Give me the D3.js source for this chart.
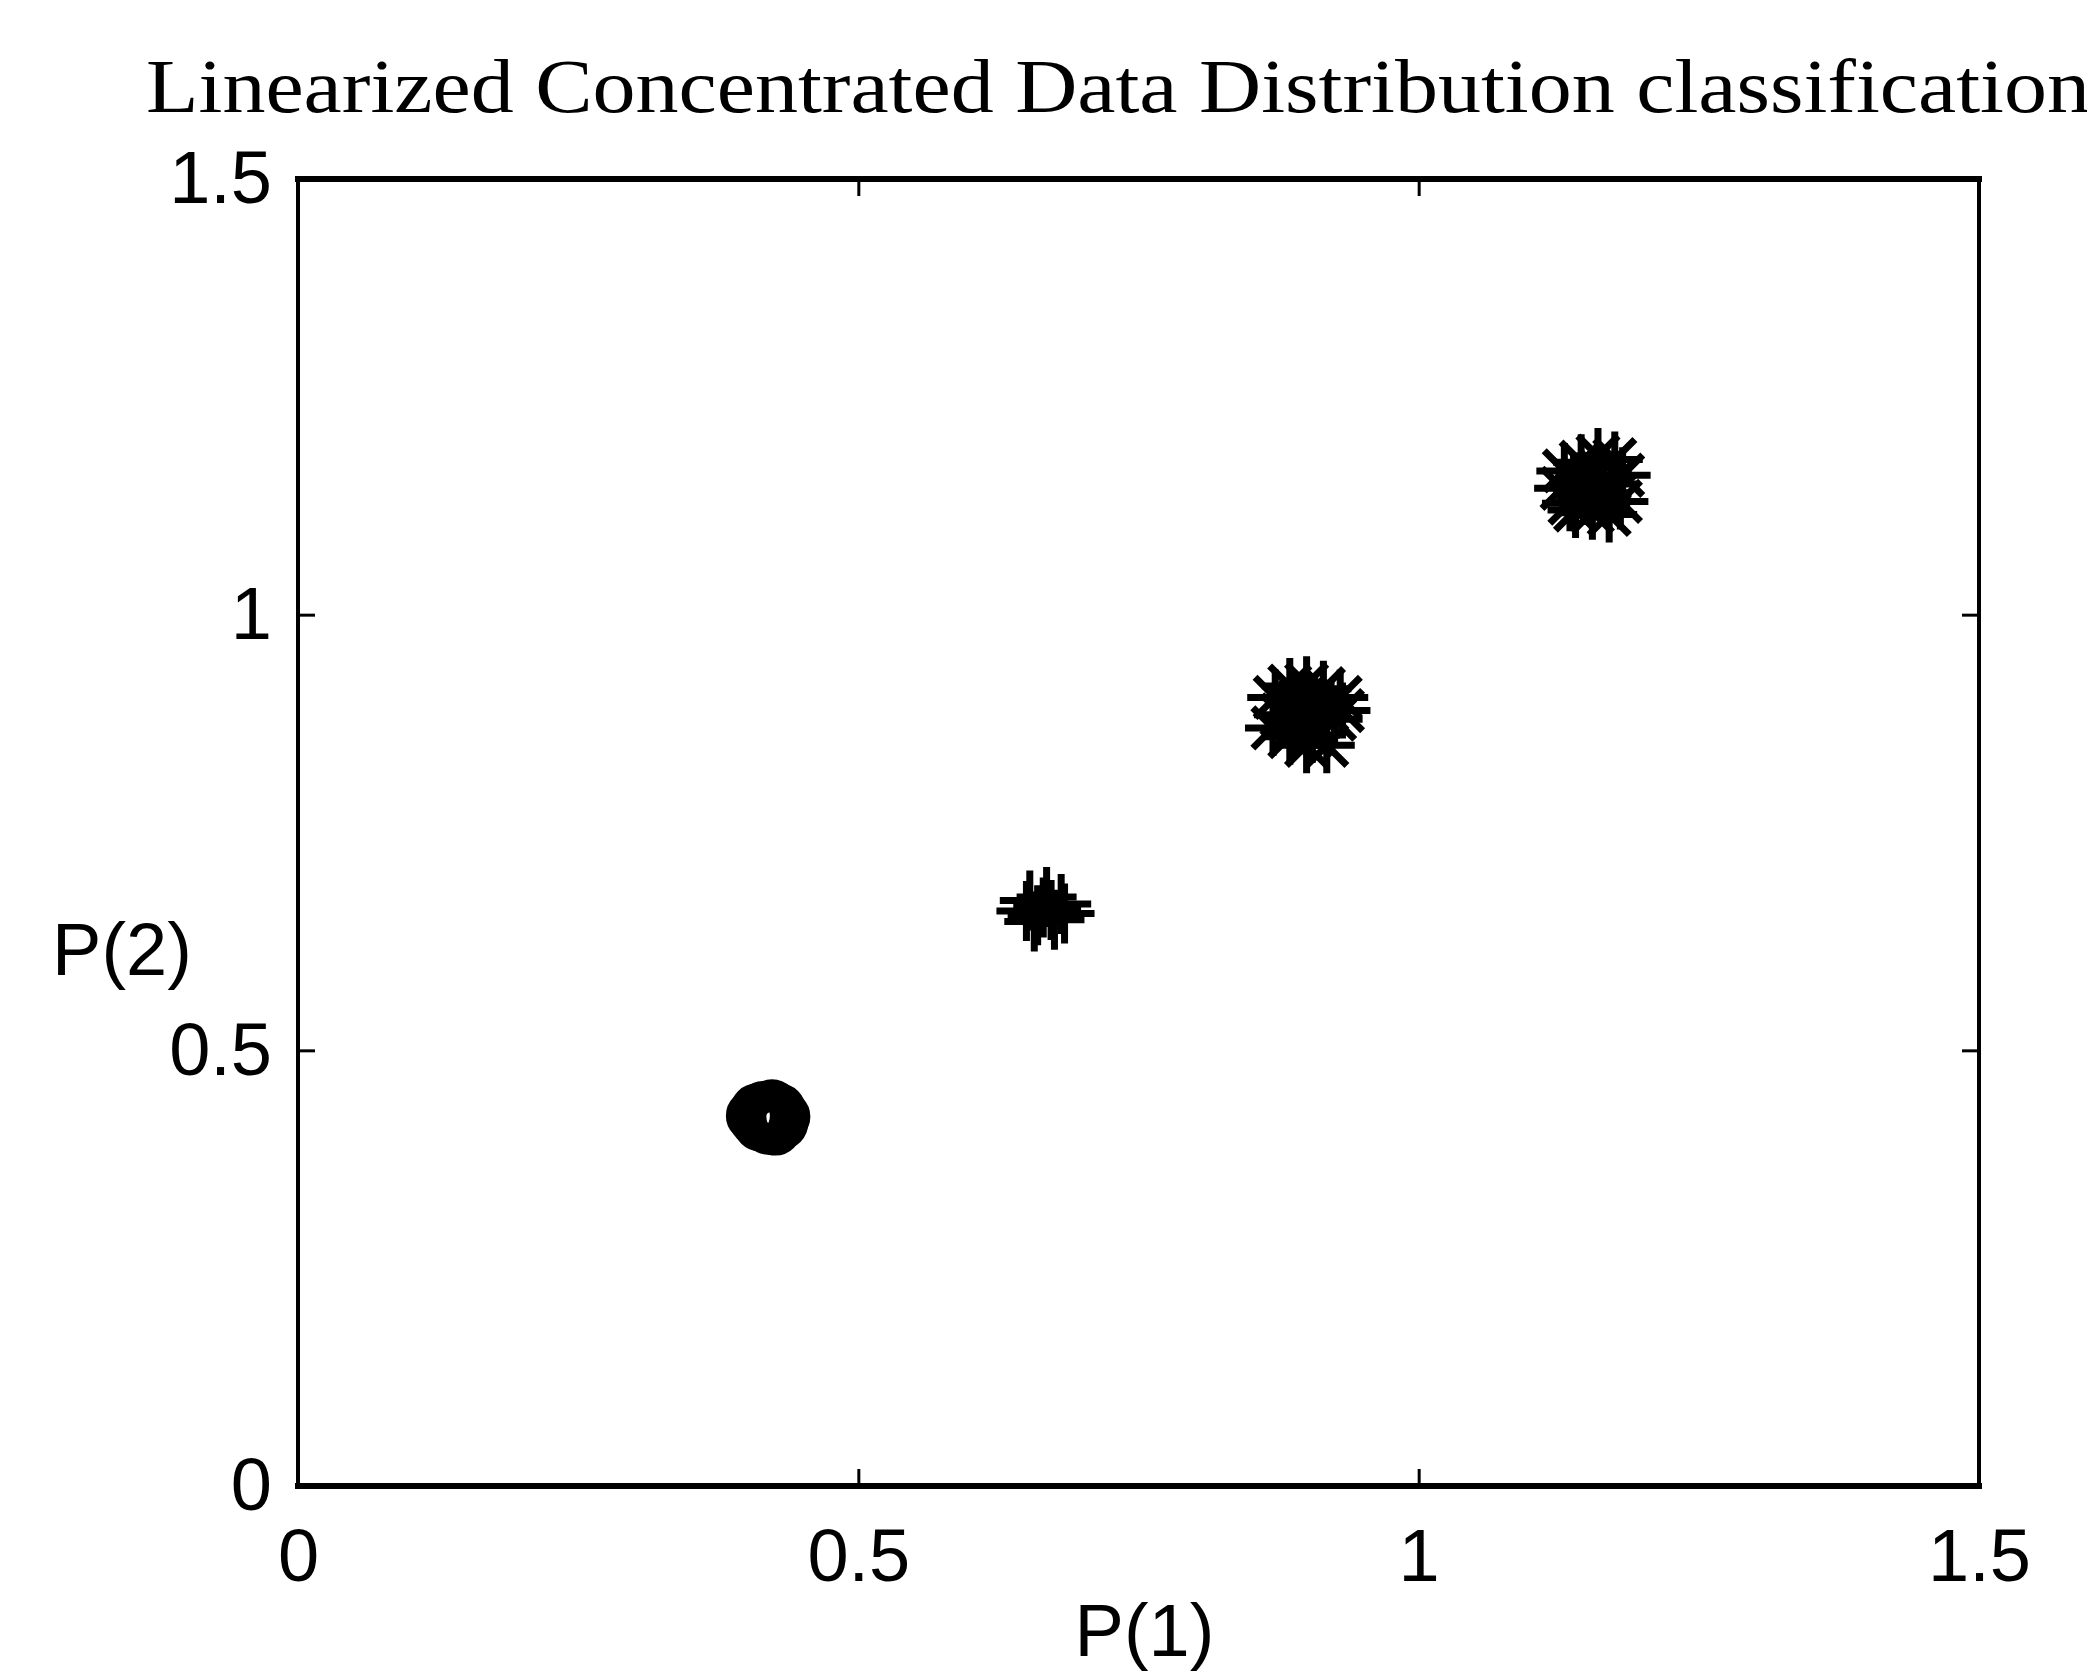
<!DOCTYPE html>
<html>
<head>
<meta charset="utf-8">
<script src="https://cdn.jsdelivr.net/npm/d3@7"></script>
<style>
html,body{margin:0;padding:0;background:#fff;}
svg{display:block;}
</style>
</head>
<body>
<script>
// ---- Data ----
const titleText = "Linearized Concentrated Data Distribution classification";
const xLabel = "P(1)";
const yLabel = "P(2)";
const xTicks = [0, 0.5, 1, 1.5];
const yTicks = [0, 0.5, 1, 1.5];
const xTickLabels = ["0", "0.5", "1", "1.5"];
const yTickLabels = ["0", "0.5", "1", "1.5"];

// class 1: 'o' markers
const class1 = [
  [0.410,0.430],[0.425,0.415],[0.418,0.428],[0.428,0.424],[0.412,0.414],
  [0.420,0.410],[0.415,0.435],[0.430,0.432],[0.408,0.420],[0.423,0.437],
  [0.417,0.418],[0.432,0.416],[0.414,0.426],[0.426,0.409],[0.409,0.432],
  [0.421,0.422],[0.405,0.425],[0.434,0.424]
];
// class 2: '+' markers
const class2 = [
  [0.653,0.672],[0.668,0.676],[0.681,0.668],[0.660,0.655],[0.675,0.650],
  [0.650,0.660],[0.684,0.657],[0.665,0.664],[0.657,0.648],[0.672,0.661]
];
// class 3: '*' markers
const class3 = [
  [0.872,0.905],[0.885,0.918],[0.900,0.920],[0.915,0.915],[0.930,0.905],
  [0.878,0.885],[0.895,0.895],[0.910,0.888],[0.925,0.880],[0.870,0.870],
  [0.890,0.872],[0.905,0.862],[0.918,0.850],[0.900,0.850],[0.885,0.860],
  [0.932,0.890]
];
// class 4: '*' markers
const class4 = [
  [1.130,1.165],[1.145,1.175],[1.160,1.182],[1.175,1.178],[1.128,1.145],
  [1.142,1.152],[1.158,1.160],[1.172,1.150],[1.135,1.128],[1.150,1.135],
  [1.165,1.140],[1.180,1.130],[1.155,1.118],[1.170,1.115],[1.140,1.120],
  [1.182,1.160]
];

// ---- Layout ----
const W = 2087, H = 1674;
const L = 298, R = 1979, T = 179, B = 1486;

const svg = d3.select("body").append("svg").attr("width", W).attr("height", H);
svg.append("rect").attr("width", W).attr("height", H).attr("fill", "#fff");

const x = d3.scaleLinear().domain([0, 1.5]).range([L, R]);
const y = d3.scaleLinear().domain([0, 1.5]).range([B, T]);

const tickFont = "'Liberation Sans', Arial, sans-serif";
const tickSize = 74;

// Title
svg.append("text")
  .attr("x", 146).attr("y", 112)
  .attr("font-family", "'Liberation Serif', 'Times New Roman', serif")
  .attr("font-size", 77)
  .attr("textLength", 1944)
  .attr("lengthAdjust", "spacingAndGlyphs")
  .attr("fill", "#000")
  .text(titleText);

// Axes
function styleAxis(g) {
  g.select(".domain").remove();
  g.selectAll(".tick line").attr("stroke", "#000").attr("stroke-width", 3);
  g.selectAll(".tick text").attr("font-family", tickFont).attr("font-size", tickSize).attr("fill", "#000");
}
const xi = {}; xTicks.forEach((t, i) => xi[t] = xTickLabels[i]);
const yi = {}; yTicks.forEach((t, i) => yi[t] = yTickLabels[i]);

svg.append("g").attr("transform", `translate(0,${B})`)
  .call(d3.axisBottom(x).tickValues(xTicks).tickSize(-17).tickPadding(42).tickFormat(d => xi[d]))
  .call(styleAxis);
svg.append("g").attr("transform", `translate(${L},0)`)
  .call(d3.axisLeft(y).tickValues(yTicks).tickSize(-17).tickPadding(26).tickFormat(d => yi[d]))
  .call(styleAxis);
svg.append("g").attr("transform", `translate(0,${T})`)
  .call(d3.axisTop(x).tickValues(xTicks).tickSize(-17).tickFormat(""))
  .call(styleAxis);
svg.append("g").attr("transform", `translate(${R},0)`)
  .call(d3.axisRight(y).tickValues(yTicks).tickSize(-17).tickFormat(""))
  .call(styleAxis);

// Frame: thicker horizontal edges, thinner vertical edges
const frame = svg.append("g").attr("stroke", "#000").attr("stroke-linecap", "square");
frame.append("line").attr("x1", L).attr("x2", R).attr("y1", T).attr("y2", T).attr("stroke-width", 6);
frame.append("line").attr("x1", L).attr("x2", R).attr("y1", B).attr("y2", B).attr("stroke-width", 6);
frame.append("line").attr("x1", L).attr("x2", L).attr("y1", T).attr("y2", B).attr("stroke-width", 4);
frame.append("line").attr("x1", R).attr("x2", R).attr("y1", T).attr("y2", B).attr("stroke-width", 4);

// Axis labels
svg.append("text")
  .attr("x", (L + R) / 2 + 6).attr("y", 1656)
  .attr("text-anchor", "middle")
  .attr("font-family", tickFont).attr("font-size", tickSize)
  .attr("fill", "#000").text(xLabel);
svg.append("text")
  .attr("x", 122).attr("y", 975)
  .attr("text-anchor", "middle")
  .attr("font-family", tickFont).attr("font-size", tickSize)
  .attr("fill", "#000").text(yLabel);

// Markers
const pts = svg.append("g");
pts.selectAll("circle.c1").data(class1).join("circle")
  .attr("class", "c1")
  .attr("cx", d => x(d[0])).attr("cy", d => y(d[1]))
  .attr("r", 22).attr("fill", "none").attr("stroke", "#000").attr("stroke-width", 8);

const plusPath = s => `M${-s},0L${s},0M0,${-s}L0,${s}`;
const starPath = s => {
  const d = s * 0.72;
  return `M${-s},0L${s},0M0,${-s}L0,${s}M${-d},${-d}L${d},${d}M${-d},${d}L${d},${-d}`;
};

pts.selectAll("path.c2").data(class2).join("path")
  .attr("class", "c2")
  .attr("transform", d => `translate(${x(d[0])},${y(d[1])})`)
  .attr("d", plusPath(30))
  .attr("fill", "none").attr("stroke", "#000").attr("stroke-width", 7);

pts.selectAll("path.c3").data(class3).join("path")
  .attr("class", "c3")
  .attr("transform", d => `translate(${x(d[0])},${y(d[1])})`)
  .attr("d", starPath(28))
  .attr("fill", "none").attr("stroke", "#000").attr("stroke-width", 7);

pts.selectAll("path.c4").data(class4).join("path")
  .attr("class", "c4")
  .attr("transform", d => `translate(${x(d[0])},${y(d[1])})`)
  .attr("d", starPath(28))
  .attr("fill", "none").attr("stroke", "#000").attr("stroke-width", 7);
</script>
</body>
</html>
